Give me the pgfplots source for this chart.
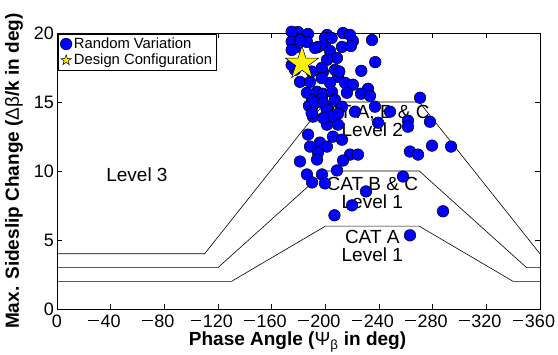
\documentclass[border=0pt]{standalone}
\usepackage{fontspec}
\setmainfont{Liberation Sans}
\usepackage{pgfplots}
\pgfplotsset{compat=1.18}
\newcommand{\mn}{\llap{\rule[6pt]{10.5pt}{1.2pt}\kern1.7pt}}
\pgfdeclareplotmark{fstar}{%
  \pgfpathmoveto{\pgfpointpolar{90}{\pgfplotmarksize}}%
  \pgfpathlineto{\pgfpointpolar{126}{0.382*\pgfplotmarksize}}%
  \pgfpathlineto{\pgfpointpolar{162}{\pgfplotmarksize}}%
  \pgfpathlineto{\pgfpointpolar{198}{0.382*\pgfplotmarksize}}%
  \pgfpathlineto{\pgfpointpolar{234}{\pgfplotmarksize}}%
  \pgfpathlineto{\pgfpointpolar{270}{0.382*\pgfplotmarksize}}%
  \pgfpathlineto{\pgfpointpolar{306}{\pgfplotmarksize}}%
  \pgfpathlineto{\pgfpointpolar{342}{0.382*\pgfplotmarksize}}%
  \pgfpathlineto{\pgfpointpolar{18}{\pgfplotmarksize}}%
  \pgfpathlineto{\pgfpointpolar{54}{0.382*\pgfplotmarksize}}%
  \pgfpathclose
  \pgfusepathqfillstroke
}
\pgfplotsset{
  legdot/.style={legend image code/.code={\draw[mark size=5.8pt,mark=*,mark options={fill=blue,draw=black,line width=0.5pt}] plot coordinates {(0.2cm,0cm)};}},
  legstar/.style={legend image code/.code={\draw[mark size=5.5pt,mark=fstar,mark options={fill=yellow,draw=black,line width=0.5pt}] plot coordinates {(0.2cm,0cm)};}},
}
\pgfplotstableread{
x y
-179.6 20.07
-187.1 19.93
-201.3 19.86
-213.2 20.00
-218.4 19.86
-220.6 19.42
-234.8 19.49
-177.4 19.64
-178.9 18.99
-186.3 19.35
-194.5 18.99
-199.7 19.13
-203.5 18.70
-212.4 18.99
-219.1 19.06
-208.7 18.19
-237.2 17.89
-226.8 17.26
-177.4 17.33
-198.3 17.18
-207.2 17.33
-209.5 16.82
-181.1 16.46
-188.6 16.46
-203.5 16.39
-214.7 16.39
-220.6 16.25
-231.8 15.96
-186.3 15.67
-193.8 15.74
-198.3 15.60
-204.9 15.74
-216.1 15.67
-226.6 15.60
-233.3 15.45
-270.6 15.31
-190.1 15.16
-197.5 15.23
-207.2 15.16
-187.8 14.73
-192.3 14.95
-201.3 14.58
-212.4 14.66
-237.0 14.66
-248.2 14.30
-222.1 14.30
-209.4 14.15
-190.8 13.94
-202.0 13.94
-261.6 13.65
-278.0 13.57
-239.3 13.50
-201.2 13.36
-209.4 13.36
-261.6 13.21
-187.1 12.64
-205.7 12.49
-212.4 12.27
-196.0 12.06
-188.6 11.77
-201.2 11.77
-279.5 11.84
-293.7 11.77
-263.1 11.41
-269.1 11.19
-194.5 11.34
-218.4 11.19
-224.3 11.19
-193.8 10.83
-181.1 10.69
-213.2 10.76
-208.7 10.04
-186.3 9.75
-197.5 9.75
-257.9 9.60
-190.1 9.17
-199.7 9.10
-230.3 8.52
-219.9 7.51
-206.8 6.79
-287.7 7.08
-263.1 5.34
-174.9 20.09
-199.7 19.64
-174.9 19.37
-181.1 19.49
-192.3 18.92
-174.9 18.77
-201.2 18.05
-197.3 17.47
-174.9 17.69
-189.8 17.21
-204.7 19.64
-210.4 17.21
-197.3 16.73
-198.5 14.92
-189.8 14.20
-201.0 14.44
-204.7 13.96
-198.5 13.84
}\randomdata
\begin{document}
\begin{tikzpicture}
\begin{axis}[
  scale only axis, width=483pt, height=276pt,
  x dir=reverse, xmin=-360, xmax=0, ymin=0, ymax=20,
  xtick={0,-40,-80,-120,-160,-200,-240,-280,-320,-360},
  xticklabels={0,\mn40,\mn80,\mn120,\mn160,\mn200,\mn240,\mn280,\mn320,\mn360},
  ytick={0,5,10,15,20},
  tick align=inside, major tick length=5pt,
  tick style={black, line width=0.6pt},
  axis line style={line width=0.9pt},
  ticklabel style={font=\fontsize{18}{19}\selectfont},
  xticklabel style={inner sep=0pt, yshift=-5.5pt},
  yticklabel style={inner sep=0pt, xshift=-3pt},
  /pgf/number format/assume math mode=true,
  xlabel={Phase Angle ({\mdseries Ψ}\textsubscript{\mdseries β} in deg)},
  ylabel={Max. Sideslip Change ({\mdseries Δβ}/k in deg)},
  label style={font=\bfseries\fontsize{19}{20}\selectfont},
  xlabel style={at={(axis description cs:0.498,0)}, anchor=base, yshift=-37pt},
  ylabel style={at={(axis description cs:-0.089,0.5)}, anchor=center},
  clip=false,
  legend cell align=left,
  legend style={font=\fontsize{14.8}{16}\selectfont, at={(0.002,0.998)}, anchor=north west,
    draw=black, line width=0.7pt, inner sep=2pt, row sep=0pt, fill=white},
]
\addplot[black, line width=0.6pt, forget plot] coordinates {(0,4) (-110,4) (-200,15) (-270,15) (-360,4)};
\addplot[black, line width=0.6pt, forget plot] coordinates {(0,3) (-120,3) (-200,10) (-270,10) (-350,3) (-360,3)};
\addplot[black, line width=0.6pt, forget plot] coordinates {(0,2) (-130,2) (-200,6) (-270,6) (-340,2) (-360,2)};
\node[font=\fontsize{19}{18}\selectfont] at (axis cs:-59.6,9.75) {Level 3};
\node[font=\fontsize{19}{18}\selectfont, align=center] at (axis cs:-235,13.6) {CAT A, B \& C\\Level 2};
\node[font=\fontsize{19}{18}\selectfont, align=center] at (axis cs:-235,8.4) {CAT B \& C\\Level 1};
\node[font=\fontsize{19}{18}\selectfont, align=center] at (axis cs:-235,4.55) {CAT A\\Level 1};
\addplot[only marks, mark=*, mark size=5.8pt, mark options={fill=blue, draw=black, line width=0.5pt}, legdot]
  table[x=x,y=y] {\randomdata};
\addlegendentry{Random Variation}
\addplot[only marks, mark=fstar, mark size=17.5pt, mark options={fill=yellow, draw=black, line width=0.5pt}, legstar]
  coordinates {(-182.6,17.79)};
\addlegendentry{Design Configuration}
\end{axis}
\pgfresetboundingbox
\path ([xshift=-57pt,yshift=-46pt]current axis.south west) rectangle ([xshift=18pt,yshift=33pt]current axis.north east);
\end{tikzpicture}
\end{document}
